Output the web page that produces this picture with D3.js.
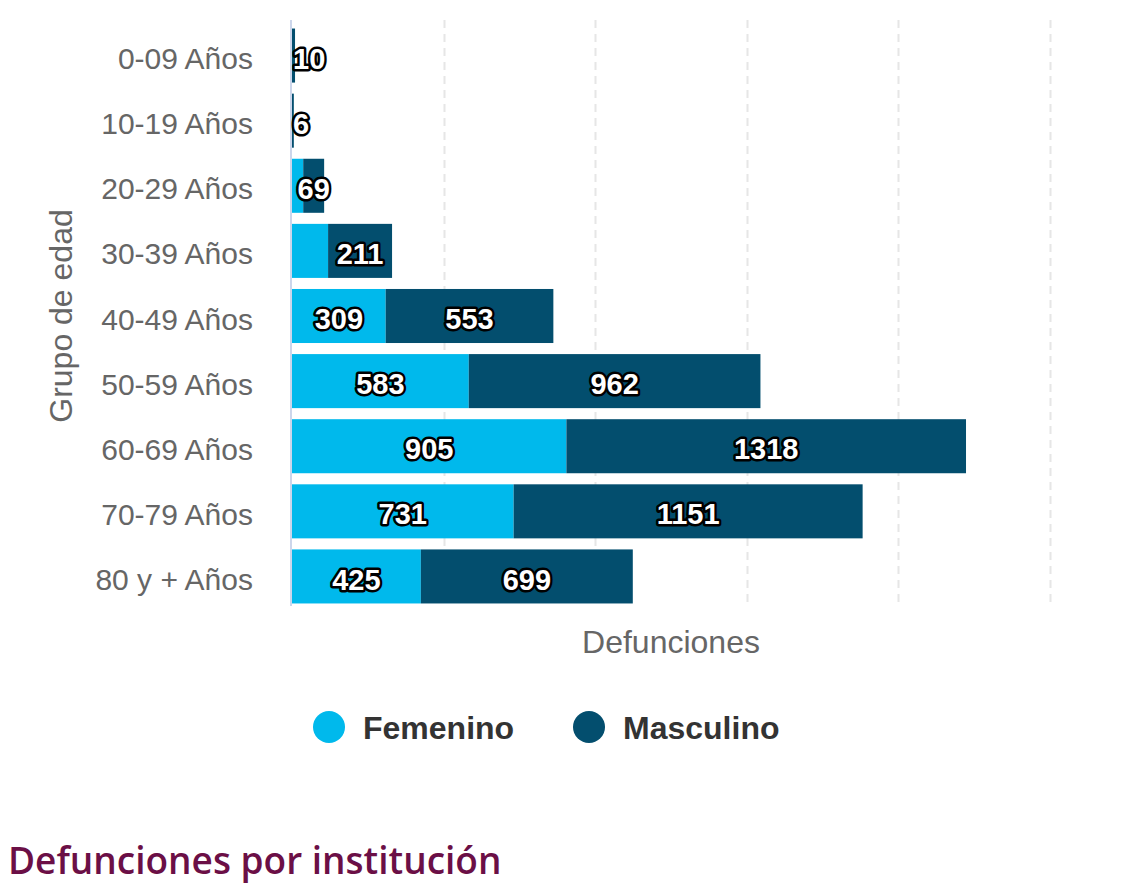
<!DOCTYPE html>
<html><head><meta charset="utf-8">
<script src="https://cdn.jsdelivr.net/npm/d3@7"></script>
<style>
body{margin:0;background:#fff;}
svg text{font-family:"Liberation Sans",Arial,sans-serif;}
</style></head>
<body>
<svg id="c" width="1136" height="884"></svg>
<script>
const categories = ["0-09 Años","10-19 Años","20-29 Años","30-39 Años","40-49 Años","50-59 Años","60-69 Años","70-79 Años","80 y + Años"];
const femenino = [0,0,37,119,309,583,905,731,425];
const masculino = [10,6,69,211,553,962,1318,1151,699];
const seriesNames = ["Femenino","Masculino"];
const seriesColors = ["#00b9ec","#034e6e"];
const xTicks = [0,500,1000,1500,2000,2500];

const svg = d3.select("#c");
const m = {left:292,right:1050,top:23,bottom:609};
const x = d3.scaleLinear().domain([0,2500]).range([m.left,m.right]);
const y = d3.scaleBand().domain(categories).range([m.top,m.bottom]).paddingInner(0.17).paddingOuter(0.085);
const labOff = 3;

// grid
svg.append("g").selectAll("line").data(xTicks.slice(1)).join("line")
  .attr("x1",d=>Math.round(x(d))+0.5).attr("x2",d=>Math.round(x(d))+0.5)
  .attr("y1",20).attr("y2",606)
  .attr("stroke","#e6e6e6").attr("stroke-width",2).attr("stroke-dasharray","8,6");

// bars
const stackData = categories.map((c,i)=>({cat:c,Femenino:femenino[i],Masculino:masculino[i]}));
const stack = d3.stack().keys(seriesNames)(stackData);
const g = svg.append("g");
stack.forEach((s,si)=>{
  g.append("g").selectAll("rect").data(s).join("rect")
   .attr("x",d=>x(d[0])).attr("width",d=>x(d[1])-x(d[0]))
   .attr("y",d=>y(d.data.cat)).attr("height",y.bandwidth())
   .attr("fill",seriesColors[si]);
});

// axis line
svg.append("line").attr("x1",291).attr("x2",291).attr("y1",20).attr("y2",606)
  .attr("stroke","#ccd6eb").attr("stroke-width",2);

// category labels
svg.append("g").selectAll("text").data(categories).join("text")
  .attr("x",253).attr("y",d=>y(d)+y.bandwidth()/2+labOff).attr("dy","0.35em")
  .attr("text-anchor","end").attr("font-size",30).attr("fill","#666").text(d=>d);

// axis titles
svg.append("text").attr("transform",`translate(72,316) rotate(-90)`)
  .attr("text-anchor","middle").attr("font-size",32).attr("fill","#666").text("Grupo de edad");
svg.append("text").attr("x",(m.left+m.right)/2).attr("y",653).attr("text-anchor","middle")
  .attr("font-size",32).attr("fill","#666").text("Defunciones");

// data labels
const labG = svg.append("g");
function addLabel(val,cx,cy){
  const t = labG.append("text").attr("x",cx).attr("y",cy).attr("dy","0.35em")
    .attr("text-anchor","middle").attr("font-size",29).attr("font-weight","bold")
    .attr("fill","#fff").attr("stroke","#000").attr("stroke-width",5)
    .attr("stroke-linejoin","round").attr("paint-order","stroke").text(val);
  const w = t.node().getComputedTextLength();
  if(cx - w/2 < m.left){ t.attr("x", m.left + w/2 + 1); }
  return t;
}
categories.forEach((c,i)=>{
  const cy = y(c)+y.bandwidth()/2+labOff;
  const mS = stack[1][i], fS = stack[0][i];
  const mt = addLabel(masculino[i], (x(mS[0])+x(mS[1]))/2, cy);
  if(femenino[i]>0){
    const ft = addLabel(femenino[i], (x(fS[0])+x(fS[1]))/2, cy);
    const a = ft.node().getBBox(), b = mt.node().getBBox();
    if(a.x+a.width + 6 > b.x) ft.remove();
  }
});

// legend
const leg = svg.append("g");
const legItems = [{n:seriesNames[0],c:seriesColors[0],x:329,tx:363},{n:seriesNames[1],c:seriesColors[1],x:589,tx:623}];
legItems.forEach(d=>{
  leg.append("circle").attr("cx",d.x).attr("cy",727).attr("r",16).attr("fill",d.c);
  leg.append("text").attr("x",d.tx).attr("y",728).attr("dy","0.35em").attr("font-size",32)
    .attr("font-weight","bold").attr("fill","#333").text(d.n);
});

// bottom heading
svg.append("text").attr("x",8).attr("y",874).attr("font-size",37).attr("font-weight",600)
  .attr("fill","#6b0f46").style("font-family","'Open Sans','Noto Sans',sans-serif")
  .text("Defunciones por institución");
</script>
</body></html>
